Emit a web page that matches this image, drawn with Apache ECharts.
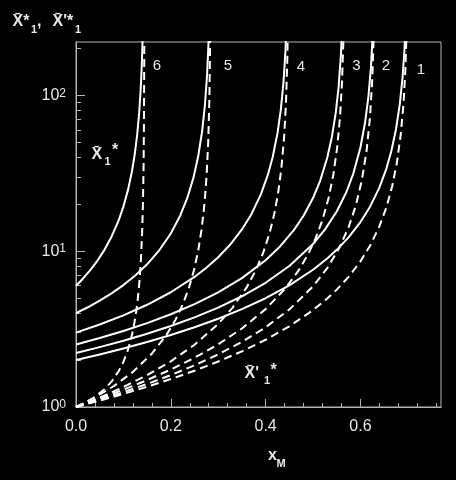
<!DOCTYPE html>
<html><head><meta charset="utf-8">
<script src="https://cdn.jsdelivr.net/npm/echarts@6/dist/echarts.min.js"></script>
<style>html,body{margin:0;padding:0;background:#000;}#c{width:456px;height:480px;}</style>
</head><body><div id="c"></div>
<script>
// ---- data (x = x_M, y = X value, log scale) ----
const curveNames = ['1', '2', '3', '4', '5', '6'];

const solid1 = [[0,2.0],[0.05,2.173],[0.1,2.374],[0.15,2.613],[0.2,2.898],[0.25,3.247],[0.3,3.683],[0.35,4.244],[0.4,4.99],[0.45,6.03],[0.5,7.6],[0.53,8.97],[0.55,10.2],[0.575,12.27],[0.6,15.37],[0.62,19.23],[0.64,25.6],[0.655,34.04],[0.665,43.6],[0.675,60.4],[0.683,87.4],[0.689,131],[0.693,197],[0.697,394]];
const solid2 = [[0,2.22],[0.05,2.422],[0.1,2.662],[0.15,2.951],[0.2,3.308],[0.25,3.758],[0.3,4.343],[0.35,5.137],[0.4,6.271],[0.45,8.03],[0.5,11.12],[0.525,13.75],[0.55,17.98],[0.57,23.8],[0.585,31.5],[0.6,46.3],[0.61,67.4],[0.617,98.9],[0.622,148.4],[0.626,247]];
const solid3 = [[0,2.52],[0.05,2.771],[0.1,3.077],[0.15,3.455],[0.2,3.937],[0.25,4.57],[0.3,5.441],[0.35,6.713],[0.4,8.75],[0.43,10.68],[0.46,13.7],[0.48,16.87],[0.5,21.92],[0.515,28.3],[0.53,39.8],[0.54,54.5],[0.548,77.5],[0.554,113.3],[0.559,184.2],[0.563,368]];
const solid4 = [[0,3.0],[0.05,3.382],[0.1,3.874],[0.15,4.53],[0.2,5.45],[0.25,6.832],[0.275,7.82],[0.3,9.141],[0.325,10.99],[0.35,13.78],[0.37,17.28],[0.39,23.16],[0.405,31.07],[0.415,40.23],[0.425,57.0],[0.432,80.5],[0.438,124.4],[0.442,195.6],[0.446,456]];
const solid5 = [[0,4.0],[0.025,4.366],[0.05,4.81],[0.075,5.36],[0.1,6.06],[0.125,6.978],[0.15,8.238],[0.175,10.07],[0.2,12.99],[0.22,16.96],[0.235,22.04],[0.248,29.8],[0.258,41.0],[0.266,58.6],[0.272,86.7],[0.2765,135.3],[0.2795,216.4],[0.2825,541]];
const solid6 = [[0,6.0],[0.015,6.684],[0.03,7.549],[0.045,8.674],[0.06,10.2],[0.075,12.385],[0.09,15.78],[0.1,19.32],[0.11,24.92],[0.118,32.47],[0.124,42.04],[0.129,55.75],[0.133,75.4],[0.1365,109.25],[0.139,160.7],[0.141,258]];

const dashed1 = [[0,1],[0.05,1.098],[0.1,1.213],[0.15,1.348],[0.2,1.511],[0.25,1.71],[0.3,1.958],[0.35,2.276],[0.4,2.701],[0.45,3.295],[0.5,4.184],[0.53,4.967],[0.55,5.662],[0.575,6.84],[0.6,8.6],[0.62,10.8],[0.64,14.43],[0.655,19.2],[0.667,26.1],[0.677,37.1],[0.685,55.8],[0.691,89.4],[0.695,149.3],[0.698,298.8]];
const dashed2 = [[0,1],[0.05,1.112],[0.1,1.245],[0.15,1.405],[0.2,1.603],[0.25,1.852],[0.3,2.176],[0.35,2.616],[0.4,3.246],[0.45,4.223],[0.5,5.943],[0.53,7.79],[0.555,10.43],[0.575,14.23],[0.59,19.48],[0.603,28.5],[0.613,44.1],[0.62,71.1],[0.625,126],[0.628,234.3]];
const dashed3 = [[0,1],[0.05,1.131],[0.1,1.291],[0.15,1.489],[0.2,1.74],[0.25,2.071],[0.3,2.525],[0.35,3.189],[0.4,4.248],[0.44,5.693],[0.47,7.556],[0.49,9.6],[0.505,11.99],[0.52,15.89],[0.533,22.0],[0.543,31.1],[0.551,46.4],[0.557,73.1],[0.561,118.4],[0.564,220.2],[0.566,514]];
const dashed4 = [[0,1],[0.05,1.15],[0.1,1.344],[0.15,1.602],[0.2,1.964],[0.25,2.508],[0.3,3.416],[0.33,4.328],[0.36,5.854],[0.38,7.609],[0.395,9.78],[0.408,12.94],[0.418,17.18],[0.426,23.2],[0.433,33.5],[0.439,53.7],[0.443,89.6],[0.446,179.4],[0.448,538.6]];
const dashed5 = [[0,1],[0.04,1.152],[0.08,1.364],[0.12,1.68],[0.16,2.199],[0.19,2.876],[0.21,3.632],[0.225,4.535],[0.238,5.79],[0.249,7.58],[0.258,10.16],[0.265,13.84],[0.271,20.1],[0.2755,30.45],[0.279,50.9],[0.2815,98],[0.283,220.3],[0.2838,661]];
const dashed6 = [[0,1],[0.02,1.068],[0.04,1.161],[0.06,1.299],[0.075,1.455],[0.09,1.696],[0.1,1.948],[0.108,2.25],[0.115,2.648],[0.121,3.181],[0.126,3.892],[0.13,4.818],[0.134,6.464],[0.137,8.88],[0.1395,13.2],[0.1412,20.13],[0.1425,34.25],[0.1434,67.9],[0.1439,152],[0.1442,606]];

const xMajorTicks = [0, 0.2, 0.4, 0.6];
const xMinorTicks = [0.04,0.08,0.12,0.16,0.24,0.28,0.32,0.36,0.44,0.48,0.52,0.56,0.64,0.68,0.72,0.76];
const yMajorTicks = [1, 10, 100];
const yMinorTicks = [2,3,4,5,6,7,8,9,20,30,40,50,60,70,80,90,200];

// ---- styling ----
const FONT = '"Liberation Sans", Arial, Helvetica, sans-serif';
const AXIS = '#b4b4b4';
const TXT = '#e8e8e8';
const WHITE = '#ffffff';

const solids = [solid1, solid2, solid3, solid4, solid5, solid6];
const dasheds = [dashed1, dashed2, dashed3, dashed4, dashed5, dashed6];

function lineSeries(data, dashed) {
  return {
    type: 'line', data, xAxisIndex: 0, yAxisIndex: 0,
    showSymbol: false, symbol: 'none', silent: true,
    smooth: false, clip: true, animation: false,
    lineStyle: { color: WHITE, width: 2, type: dashed ? [8, 5] : 'solid', cap: 'butt', join: 'round' }, z: 3
  };
}

function txt(text, x, y, size, bold, align) {
  return {
    type: 'text', x, y, silent: true,
    style: {
      text, fill: TXT, fontSize: size, fontFamily: FONT,
      fontWeight: bold ? 'bold' : 'normal',
      textAlign: align || 'left', textVerticalAlign: 'middle'
    }
  };
}

const OB = '\u0304'; // combining macron (overbar)

const graphics = [
  // y-axis title
  txt('X' + OB + '*', 12.5, 22, 16, true),
  txt('1', 31, 29.5, 11, true),
  txt(',', 37, 22, 16, true),
  txt('X' + OB + '\'*', 52.5, 22, 16, true),
  txt('1', 75, 30, 11, true),
  // curve labels
  txt(curveNames[5], 157, 66, 15, false, 'center'),
  txt(curveNames[4], 228, 66, 15, false, 'center'),
  txt(curveNames[3], 301, 67, 15, false, 'center'),
  txt(curveNames[2], 356.5, 66, 15, false, 'center'),
  txt(curveNames[1], 386, 66, 15, false, 'center'),
  txt(curveNames[0], 421, 70, 15, false, 'center'),
  // in-plot labels
  txt('X' + OB, 91.5, 155, 16, true),
  txt('1', 104.5, 161.5, 11, true),
  txt('*', 112, 151, 16, true),
  txt('X' + OB + '\'', 244.5, 374, 16, true),
  txt('1', 264, 381, 11, true),
  txt('*', 270.5, 371, 16, true),
  // x-axis title
  txt('x', 268, 455.5, 16, true),
  txt('M', 276.5, 464, 11, true)
];

const hidden = { show: false };
const baseX = { type: 'value', min: 0, max: 0.77, interval: 0.2, position: 'bottom', splitLine: hidden, minorTick: hidden };
const baseY = { type: 'log', logBase: 10, min: 1, max: 220, position: 'left', splitLine: hidden, minorTick: hidden };

const chart = echarts.init(document.getElementById('c'), null, { renderer: 'canvas' });
chart.setOption({
  animation: false,
  backgroundColor: '#000000',
  grid: { left: 76, right: 15, top: 42, bottom: 73, show: true, borderColor: AXIS, borderWidth: 1, backgroundColor: 'transparent' },
  xAxis: [
    Object.assign({}, baseX, {
      axisLine: { show: true, lineStyle: { color: AXIS, width: 1 } },
      axisTick: { show: true, inside: true, length: 8, lineStyle: { color: AXIS, width: 1 }, customValues: xMajorTicks },
      axisLabel: { color: TXT, fontSize: 16, fontFamily: FONT, margin: 12,
        customValues: xMajorTicks, formatter: v => v.toFixed(1) }
    }),
    Object.assign({}, baseX, {
      axisLine: hidden, axisLabel: hidden,
      axisTick: { show: true, inside: true, length: 4, lineStyle: { color: AXIS, width: 1 }, customValues: xMinorTicks }
    })
  ],
  yAxis: [
    Object.assign({}, baseY, {
      axisLine: { show: true, lineStyle: { color: AXIS, width: 1 } },
      axisTick: { show: true, inside: true, length: 9, lineStyle: { color: AXIS, width: 1 }, customValues: yMajorTicks },
      axisLabel: {
        color: TXT, margin: 10, customValues: yMajorTicks,
        formatter: v => '{b|10}{s|' + Math.round(Math.log10(v)) + '}',
        rich: {
          b: { fontSize: 16, fontFamily: FONT, color: TXT },
          s: { fontSize: 12, fontFamily: FONT, color: TXT, verticalAlign: 'top' }
        }
      }
    }),
    Object.assign({}, baseY, {
      axisLine: hidden, axisLabel: hidden,
      axisTick: { show: true, inside: true, length: 5, lineStyle: { color: AXIS, width: 1 }, customValues: yMinorTicks }
    })
  ],
  graphic: graphics,
  series: [
    ...solids.map(d => lineSeries(d, false)),
    ...dasheds.map(d => lineSeries(d, true))
  ]
});
</script>
</body></html>
